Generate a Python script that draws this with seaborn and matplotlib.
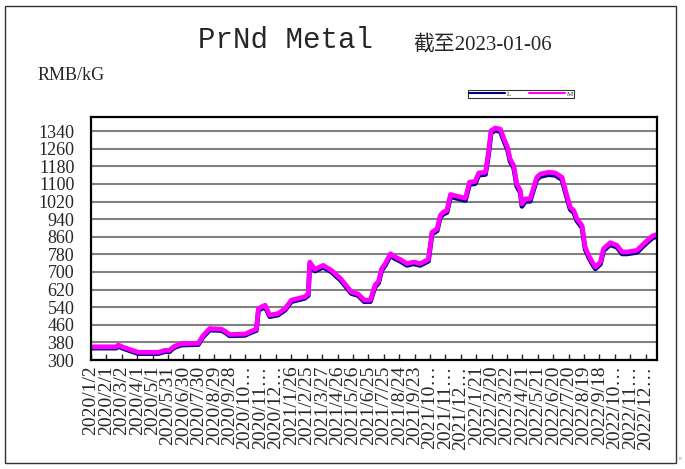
import numpy as np
import pandas as pd
import matplotlib
matplotlib.use('Agg')
import matplotlib.pyplot as plt
from matplotlib.patches import Rectangle
import seaborn as sns

# price points (RMB/kG)
dates = ['2020-01-02', '2020-02-20', '2020-02-24', '2020-03-03', '2020-03-21', '2020-04-03',
         '2020-05-12', '2020-05-25', '2020-06-03', '2020-06-08', '2020-06-13', '2020-06-26',
         '2020-07-29', '2020-08-07', '2020-08-20', '2020-09-12', '2020-09-19', '2020-09-28',
         '2020-10-28', '2020-11-09', '2020-11-19', '2020-11-23', '2020-12-06', '2020-12-15',
         '2020-12-31', '2021-01-14', '2021-01-26', '2021-02-21', '2021-02-28', '2021-03-03',
         '2021-03-13', '2021-03-29', '2021-04-14', '2021-05-02', '2021-05-23', '2021-06-05',
         '2021-06-17', '2021-06-29', '2021-07-08', '2021-07-15', '2021-07-21', '2021-07-28',
         '2021-08-07', '2021-08-16', '2021-08-26', '2021-09-08', '2021-09-21', '2021-10-04',
         '2021-10-20', '2021-10-27', '2021-11-06', '2021-11-12', '2021-11-18', '2021-11-25',
         '2021-12-02', '2021-12-15', '2021-12-31', '2022-01-08', '2022-01-19', '2022-01-26',
         '2022-02-08', '2022-02-14', '2022-02-19', '2022-02-27', '2022-03-09', '2022-03-15',
         '2022-03-23', '2022-03-28', '2022-04-04', '2022-04-10', '2022-04-17', '2022-04-20',
         '2022-04-27', '2022-05-06', '2022-05-13', '2022-05-19', '2022-05-26', '2022-06-11',
         '2022-06-24', '2022-07-07', '2022-07-13', '2022-07-23', '2022-07-30', '2022-08-05',
         '2022-08-15', '2022-08-21', '2022-08-28', '2022-09-04', '2022-09-10', '2022-09-20',
         '2022-09-26', '2022-10-09', '2022-10-22', '2022-11-01', '2022-11-11', '2022-11-30',
         '2022-12-10', '2022-12-20', '2022-12-30', '2023-01-06']

price_m = [360, 360, 368, 360, 345, 335,
           335, 344, 344, 355, 363, 374,
           376, 410, 443, 440, 431, 416,
           418, 431, 440, 534, 549, 504,
           511, 534, 572, 587, 600, 745,
           712, 730, 708, 670, 609, 600,
           572, 572, 640, 658, 715, 738,
           783, 768, 757, 738, 745, 738,
           757, 881, 896, 957, 972, 979,
           1052, 1044, 1035, 1108, 1111, 1150,
           1153, 1243, 1342, 1354, 1349, 1311,
           1266, 1213, 1183, 1100, 1070, 1009,
           1032, 1032, 1085, 1130, 1145, 1153,
           1150, 1130, 1077, 994, 979, 942,
           911, 813, 775, 745, 723, 745,
           806, 833, 821, 791, 791, 798,
           821, 843, 863, 869]

price_l = [354, 354, 362, 354, 339, 329,
           329, 338, 338, 349, 357, 368,
           370, 404, 436, 434, 425, 410,
           412, 425, 434, 526, 541, 497,
           504, 527, 565, 580, 593, 736,
           704, 722, 700, 662, 602, 593,
           565, 565, 632, 650, 707, 730,
           775, 760, 749, 730, 737, 730,
           749, 872, 887, 948, 963, 970,
           1042, 1034, 1025, 1098, 1101, 1140,
           1143, 1232, 1331, 1343, 1338, 1300,
           1255, 1202, 1172, 1089, 1059, 998,
           1021, 1021, 1074, 1119, 1134, 1142,
           1139, 1119, 1066, 984, 969, 932,
           901, 804, 766, 736, 714, 736,
           797, 824, 812, 782, 782, 789,
           812, 834, 854, 860]

tick_dates = ['2020/1/2', '2020/2/1', '2020/3/2', '2020/4/1', '2020/5/1', '2020/5/31',
              '2020/6/30', '2020/7/30', '2020/8/29', '2020/9/28', '2020/10/28', '2020/11/27',
              '2020/12/27', '2021/1/26', '2021/2/25', '2021/3/27', '2021/4/26', '2021/5/26',
              '2021/6/25', '2021/7/25', '2021/8/24', '2021/9/23', '2021/10/23', '2021/11/22',
              '2021/12/22', '2022/1/21', '2022/2/20', '2022/3/22', '2022/4/21', '2022/5/21',
              '2022/6/20', '2022/7/20', '2022/8/19', '2022/9/18', '2022/10/18', '2022/11/17',
              '2022/12/17']

y_ticks = [300, 380, 460, 540, 620, 700, 780, 860, 940, 1020, 1100, 1180, 1260, 1340]

data = pd.concat([
    pd.DataFrame({'date': pd.to_datetime(dates), 'price': price_l, 'grade': 'L'}),
    pd.DataFrame({'date': pd.to_datetime(dates), 'price': price_m, 'grade': 'M'}),
])

sns.set_style('white')
plt.rcParams['font.family'] = ['Liberation Serif', 'Noto Sans CJK SC', 'DejaVu Sans']

fig = plt.figure(figsize=(6.85, 4.69), dpi=100)
ax = fig.add_axes([91/685, 1-360/469, 566/685, 243/469])

sns.lineplot(data=data, x='date', y='price', hue='grade', hue_order=['L', 'M'],
             palette={'L': '#000080', 'M': '#ff00ff'}, linewidth=3.4, ax=ax)

ax.set_xlim(pd.Timestamp('2020-01-02'), pd.Timestamp('2023-01-08'))
ax.set_ylim(300, 1404)
ax.set_yticks(y_ticks)
ax.yaxis.grid(True, color='#808080', linewidth=1.5)
ax.set_axisbelow(True)

ax.set_xticks(pd.to_datetime(tick_dates, format='%Y/%m/%d'))
ax.set_xticklabels([d if len(d) < 10 else d[:7] + '…' for d in tick_dates],
                   rotation=90, fontsize=14)
ax.tick_params(axis='x', direction='in', length=4, width=1, pad=4, bottom=True)
ax.tick_params(axis='y', length=0, pad=12, labelsize=13)
ax.set_xlabel('')
ax.set_ylabel('')
for sp in ax.spines.values():
    sp.set_color('black')
    sp.set_linewidth(1.6)

# legend up in the header, small boxed
handles, labels = ax.get_legend_handles_labels()
ax.get_legend().remove()
leg = fig.legend(handles, labels, loc='upper left', bbox_to_anchor=(468/685, 1-90/469),
                 ncol=2, fontsize=5, frameon=True, fancybox=False, edgecolor='black',
                 borderpad=0.15, handlelength=5.2, handletextpad=0.3,
                 columnspacing=2.5, borderaxespad=0)
leg.get_frame().set_linewidth(0.8)
for ln in leg.get_lines():
    ln.set_linewidth(1.5)

fig.text(285/685, 1-40/469, 'PrNd Metal', ha='center', va='center',
         family='Liberation Mono', fontsize=21)
fig.text(413/685, 1-45/469, '截至2023-01-06', ha='left', va='center', fontsize=15)
fig.text(38/685, 1-75/469, 'RMB/kG', ha='left', va='center', fontsize=13)
fig.text(680/685, 1-458/469, '«', ha='center', va='center', fontsize=6, color='#999999')

fig.add_artist(Rectangle((5/685, 6/469), 671/685, 457/469, transform=fig.transFigure,
                         fill=False, edgecolor='#333333', linewidth=1))

fig.savefig('out.png', dpi=100)
